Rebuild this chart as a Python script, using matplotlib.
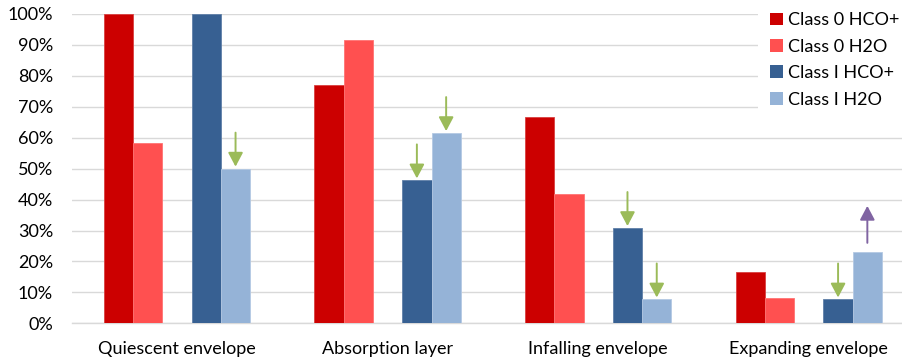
import numpy as np
import matplotlib
matplotlib.use("Agg")
import matplotlib.pyplot as plt
from matplotlib.ticker import PercentFormatter

categories = ["Quiescent envelope", "Absorption layer", "Infalling envelope", "Expanding envelope"]
series_names = ["Class 0 HCO+", "Class 0 H2O", "Class I HCO+", "Class I H2O"]
class0_hco = [100.0, 76.9, 66.7, 16.7]
class0_h2o = [58.3, 91.7, 41.7, 8.3]
class1_hco = [100.0, 46.2, 30.8, 7.7]
class1_h2o = [50.0, 61.5, 7.7, 23.1]
# limit flags: "upper" -> downward arrow, "lower" -> upward arrow
class1_hco_limits = [None, "upper", "upper", "upper"]
class1_h2o_limits = ["upper", "upper", "upper", "lower"]

colors = ["#CC0000", "#FF5050", "#376092", "#95B3D7"]
edge_colors = ["#D94040", "#FF7373", "#6080A8", "#B4C9E3"]
plt.rcParams["font.family"] = ["Lato", "DejaVu Sans"]

fig = plt.figure(figsize=(9.03, 3.64), dpi=100)
ax = fig.add_axes([71.7 / 903, 40.7 / 364, 842.4 / 903, 309.3 / 364])

x = np.arange(len(categories))
w = 0.139
offsets = [-2, -1, 1, 2]
all_series = [class0_hco, class0_h2o, class1_hco, class1_h2o]
for vals, off, col, ec, name in zip(all_series, offsets, colors, edge_colors, series_names):
    ax.bar(x + off * w, vals, width=w, color=col, edgecolor=ec, linewidth=0.6,
           label=name, zorder=3)

px = 72 / 100  # points per pixel

def draw_limits(xs, vals, flags):
    for xi, v, f in zip(xs, vals, flags):
        if f == "upper":
            ax.annotate("", xy=(xi, v), xytext=(0, 36 * px), textcoords="offset points",
                        arrowprops=dict(arrowstyle="-|>,head_length=0.85,head_width=0.45",
                                        mutation_scale=10, color="#9BBB59", lw=1.4,
                                        shrinkA=0, shrinkB=2 * px), zorder=4)
        elif f == "lower":
            ax.annotate("", xy=(xi, v), xytext=(0, 46 * px), textcoords="offset points",
                        arrowprops=dict(arrowstyle="<|-,head_length=0.85,head_width=0.45",
                                        mutation_scale=10, color="#8064A2", lw=1.4,
                                        shrinkA=0, shrinkB=9 * px), zorder=4)

draw_limits(x + offsets[2] * w, class1_hco, class1_hco_limits)
draw_limits(x + offsets[3] * w, class1_h2o, class1_h2o_limits)

ax.set_xlim(-0.5, len(categories) - 0.5)
ax.set_ylim(0, 100)
ax.set_yticks(np.arange(0, 101, 10))
ax.yaxis.set_major_formatter(PercentFormatter(decimals=0))
ax.set_xticks(x)
ax.set_xticklabels(categories)
ax.tick_params(axis="both", length=0, labelsize=13, colors="black")
ax.tick_params(axis="y", pad=13.5)
ax.tick_params(axis="x", pad=13)
ax.grid(axis="y", color="#D9D9D9", linewidth=1.0, zorder=0)
ax.set_axisbelow(True)
for s in ["top", "right", "left"]:
    ax.spines[s].set_visible(False)
ax.spines["bottom"].set_color("#D9D9D9")
ax.spines["bottom"].set_linewidth(1.0)

leg = fig.legend(loc="upper left", bbox_to_anchor=(758 / 903, 1.0), fontsize=13,
                 frameon=True, facecolor="white", edgecolor="none", framealpha=1,
                 handlelength=0.72, handleheight=0.72, handletextpad=0.25,
                 labelspacing=0.58, borderpad=0.68, borderaxespad=0)
for h in leg.legend_handles:
    h.set_linewidth(0)

fig.savefig("out.png", dpi=100)
